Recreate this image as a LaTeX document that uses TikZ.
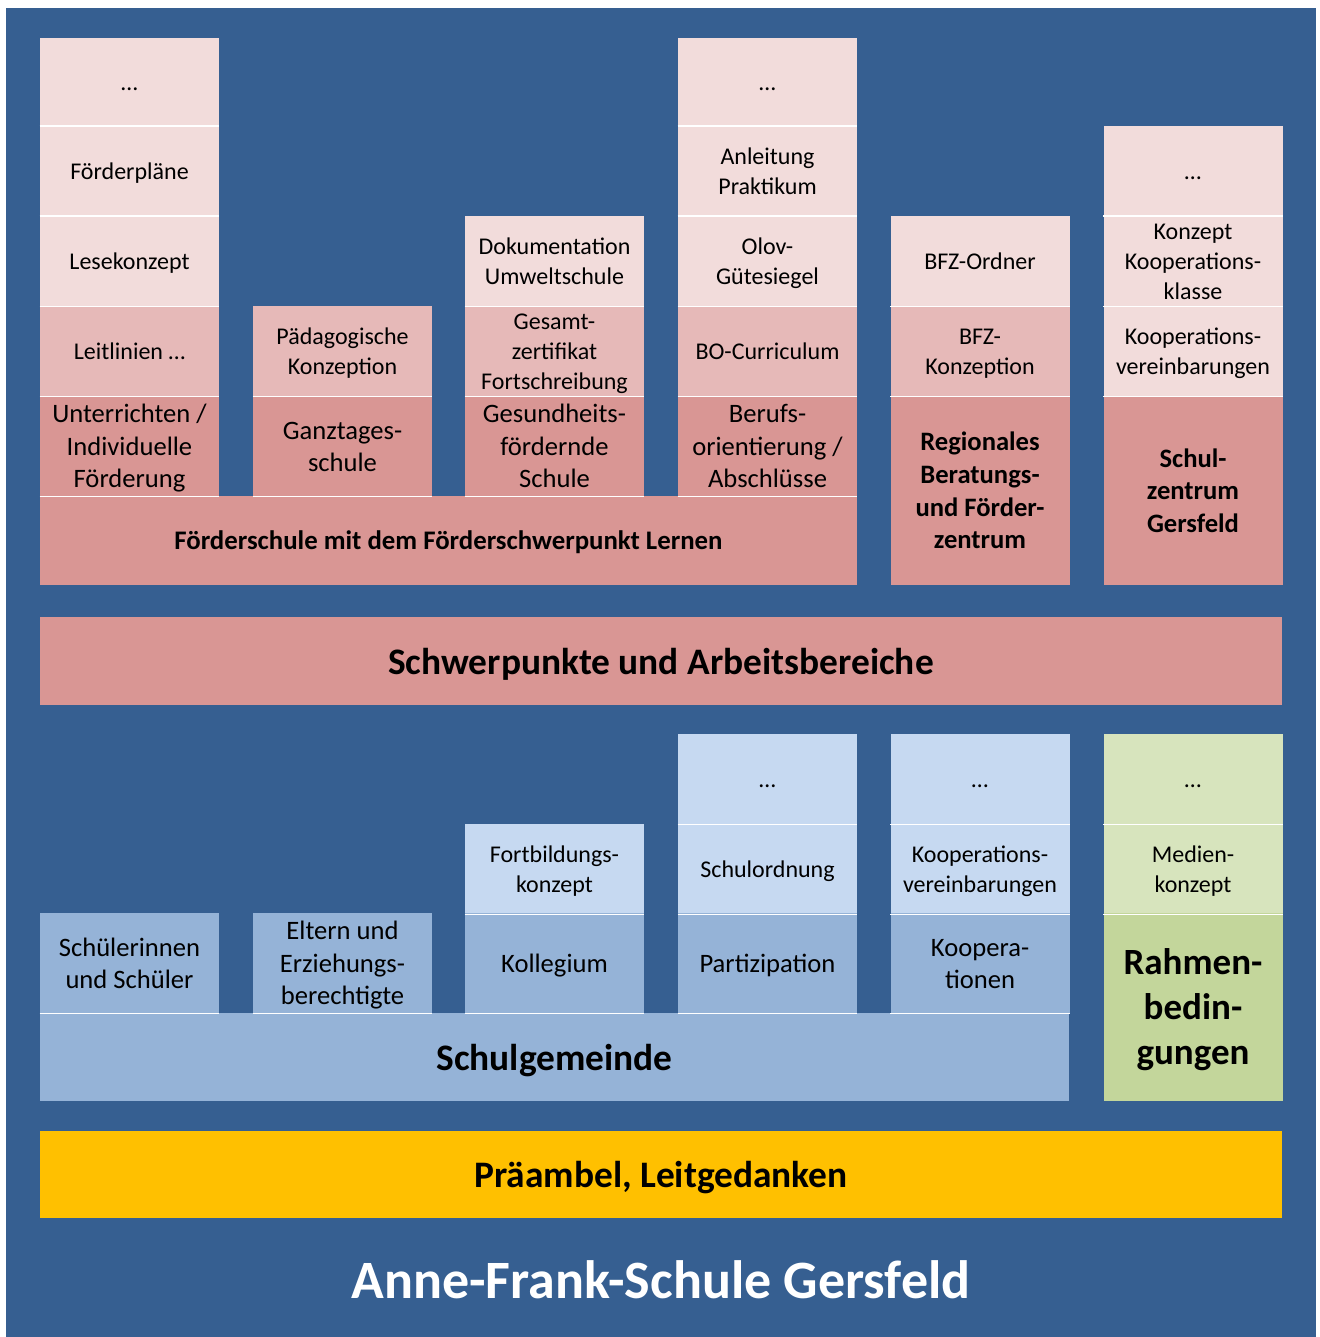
\documentclass[tikz,border=0pt]{standalone}
\usepackage{fontspec}
\setmainfont{Carlito}

\definecolor{bgblue}{HTML}{365F91}
\definecolor{pinkA}{HTML}{D99694}
\definecolor{pinkB}{HTML}{E6B9B8}
\definecolor{pinkC}{HTML}{F2DCDB}
\definecolor{blueA}{HTML}{95B3D7}
\definecolor{blueB}{HTML}{C6D9F1}
\definecolor{greenA}{HTML}{C3D69B}
\definecolor{greenB}{HTML}{D7E4BD}
\definecolor{amber}{HTML}{FFC000}

\begin{document}
\begin{tikzpicture}[x=0.5pt,y=-0.5pt,
  txt/.style={align=center,text=black,
    execute at begin node={\rule{0pt}{0.95em}},
    execute at end node={\rule[-0.25em]{0pt}{0.25em}}},
  box/.style={txt,align=flush center,text width=87pt,rectangle,inner sep=0pt,minimum width=89.5pt},
  cellS/.style={box,minimum height=45pt,font=\fontsize{12}{15}\selectfont},
  cellM/.style={box,minimum height=50pt,font=\fontsize{13.3}{16.3}\selectfont},
  cellB/.style={box,minimum height=94.5pt,font=\bfseries\fontsize{13.3}{16.3}\selectfont},
  bar/.style={txt,rectangle,inner sep=0pt,minimum height=44pt,font=\bfseries\fontsize{18.7}{22}\selectfont},
  sep/.style={white,line width=0.9pt}]

% page and background
\fill[white] (0,0) rectangle (1319,1337);
\fill[bgblue] (6,8) rectangle (1316,1337);

% --- Schwerpunkte, upper block
\node[cellS,fill=pinkC,minimum height=44pt] (dotsA) at (129.5,82) {…};
\node[cellS,fill=pinkC] (plaene) at (129.5,171) {Förderpläne};
\node[cellS,fill=pinkC] (lesen) at (129.5,261) {Lesekonzept};
\node[cellS,fill=pinkB] (leitlinien) at (129.5,351) {Leitlinien …};
\node[cellM,fill=pinkA] (unterricht) at (129.5,446) {Unterrichten /\\Individuelle\\Förderung};

\node[cellS,fill=pinkB] (paeda) at (342.5,351) {Pädagogische\\Konzeption};
\node[cellM,fill=pinkA] (ganztag) at (342.5,446) {Ganztages-\\schule};

\node[cellS,fill=pinkC] (doku) at (554.5,261) {Dokumentation\\Umweltschule};
\node[cellS,fill=pinkB] (gesamt) at (554.5,351) {Gesamt-\\zertifikat\\Fortschreibung};
\node[cellM,fill=pinkA] (gesund) at (554.5,446) {Gesundheits-\\fördernde\\Schule};

\node[cellS,fill=pinkC,minimum height=44pt] (dotsB) at (767.5,82) {…};
\node[cellS,fill=pinkC] (praktikum) at (767.5,171) {Anleitung\\Praktikum};
\node[cellS,fill=pinkC] (olov) at (767.5,261) {Olov-\\Gütesiegel};
\node[cellS,fill=pinkB] (bocur) at (767.5,351) {BO-Curriculum};
\node[cellM,fill=pinkA] (beruf) at (767.5,446) {Berufs-\\orientierung /\\Abschlüsse};

\node[bar,fill=pinkA,minimum width=408.5pt,minimum height=44.5pt,
  font=\bfseries\fontsize{13.4}{16}\selectfont] (lernen) at (448.5,540.5)
  {Förderschule mit dem Förderschwerpunkt Lernen};

\node[cellS,fill=pinkC] (bfzordner) at (980,261) {BFZ-Ordner};
\node[cellS,fill=pinkB] (bfzkonz) at (980,351) {BFZ-\\Konzeption};
\node[cellB,fill=pinkA] (rbfz) at (980,490.5) {Regionales\\Beratungs-\\und Förder-\\zentrum};

\node[cellS,fill=pinkC] (dotsC) at (1193,171) {…};
\node[cellS,fill=pinkC] (kokl) at (1193,261) {Konzept\\Kooperations-\\klasse};
\node[cellS,fill=pinkC] (kovA) at (1193,351) {Kooperations-\\vereinbarungen};
\node[cellB,fill=pinkA] (szg) at (1193,490.5) {Schul-\\zentrum\\Gersfeld};

\node[bar,fill=pinkA,minimum width=621pt] (schwerpunkte) at (661,661)
  {Schwerpunkte und Arbeitsbereiche};

% --- Schulgemeinde, lower block
\node[cellM,fill=blueA] (sus) at (129.5,963) {Schülerinnen\\und Schüler};
\node[cellM,fill=blueA] (eltern) at (342.5,963) {Eltern und\\Erziehungs-\\berechtigte};

\node[cellS,fill=blueB] (fobi) at (554.5,869) {Fortbildungs-\\konzept};
\node[cellM,fill=blueA] (kollegium) at (554.5,963) {Kollegium};

\node[cellS,fill=blueB] (dotsD) at (767.5,779) {…};
\node[cellS,fill=blueB] (ordnung) at (767.5,869) {Schulordnung};
\node[cellM,fill=blueA] (partizip) at (767.5,963) {Partizipation};

\node[cellS,fill=blueB] (dotsE) at (980,779) {…};
\node[cellS,fill=blueB] (kovB) at (980,869) {Kooperations-\\vereinbarungen};
\node[cellM,fill=blueA] (koop) at (980,963) {Koopera-\\tionen};

\node[bar,fill=blueA,minimum width=514.5pt] (gemeinde) at (554.5,1057) {Schulgemeinde};

\node[cellS,fill=greenB] (dotsF) at (1193,779) {…};
\node[cellS,fill=greenB] (medien) at (1193,869) {Medien-\\konzept};
\node[box,fill=greenA,minimum height=94pt,font=\bfseries\fontsize{18.5}{22.5}\selectfont]
  (rahmen) at (1193,1007) {Rahmen-\\bedin-\\gungen};

% --- base and school name
\node[bar,fill=amber,minimum width=621pt,minimum height=43.5pt] (praeambel) at (661,1174.5)
  {Präambel, Leitgedanken};
\node[txt,text=white,inner sep=0pt,font=\bfseries\fontsize{27}{32}\selectfont] (schule) at (661,1280)
  {Anne-Frank-Schule Gersfeld};

% white seams between stacked cells
\foreach \c in {dotsA,plaene,lesen,leitlinien,unterricht,paeda,ganztag,doku,gesamt,gesund,
  dotsB,praktikum,olov,bocur,beruf,bfzordner,bfzkonz,dotsC,kokl,kovA,
  sus,eltern,fobi,kollegium,dotsD,ordnung,partizip,dotsE,kovB,koop,dotsF,medien}
  \draw[sep] (\c.south west) -- (\c.south east);
\end{tikzpicture}
\end{document}
